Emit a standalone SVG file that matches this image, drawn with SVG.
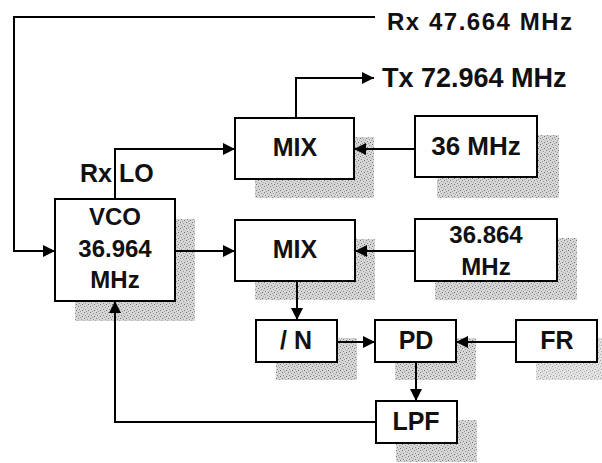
<svg xmlns="http://www.w3.org/2000/svg" width="602" height="463" viewBox="0 0 602 463">
<style>
.box{fill:#fff;stroke:#000;stroke-width:2}
.sh{fill:url(#stip);stroke:none}
.t{font-family:"Liberation Sans",Arial,sans-serif;font-weight:bold;fill:#111;text-anchor:middle}
.c{fill:none;stroke:#000;stroke-width:2}
</style>
<defs>
<pattern id="stip" width="6" height="6" patternUnits="userSpaceOnUse">
<rect width="6" height="6" fill="#d6d6d6"/>
<rect x="0" y="0" width="1" height="1" fill="#7a7a7a"/>
<rect x="3" y="1" width="1" height="1" fill="#999"/>
<rect x="1" y="3" width="1" height="1" fill="#888"/>
<rect x="4" y="4" width="1" height="1" fill="#6f6f6f"/>
<rect x="5" y="2" width="1" height="1" fill="#aaa"/>
<rect x="2" y="5" width="1" height="1" fill="#9a9a9a"/>
</pattern>
<marker id="ah" viewBox="0 0 12 12" refX="12" refY="6" markerWidth="12" markerHeight="12" markerUnits="userSpaceOnUse" orient="auto">
<path d="M0,0 L12,6 L0,12 Z" fill="#000"/>
</marker>
</defs>
<rect width="602" height="463" fill="#fff"/>

<g id="label-rx">
<text class="t" x="387" y="30" font-size="24" style="text-anchor:start" textLength="185" lengthAdjust="spacing">Rx 47.664 MHz</text>
</g>
<g id="label-tx">
<text class="t" x="382" y="87" font-size="27" style="text-anchor:start">Tx 72.964 MHz</text>
</g>
<g id="label-rxlo">
<text class="t" x="80" y="182" font-size="25" style="text-anchor:start">Rx LO</text>
</g>

<g id="mix1">
<rect class="sh" x="255" y="137" width="119" height="61"/>
<rect class="box" x="235" y="118" width="119" height="61"/>
<text class="t" x="295" y="156" font-size="25">MIX</text>
</g>
<g id="osc36">
<rect class="sh" x="437" y="135" width="122" height="63"/>
<rect class="box" x="415" y="116" width="122" height="61"/>
<text class="t" x="476" y="155" font-size="26">36 MHz</text>
</g>
<g id="vco">
<rect class="sh" x="75" y="219" width="120" height="102"/>
<rect class="box" x="55" y="199" width="120" height="102"/>
<text class="t" x="115" y="225" font-size="24">VCO</text>
<text class="t" x="115" y="257" font-size="24">36.964</text>
<text class="t" x="115" y="288" font-size="24">MHz</text>
</g>
<g id="mix2">
<rect class="sh" x="255" y="239" width="120" height="61"/>
<rect class="box" x="235" y="220" width="120" height="61"/>
<text class="t" x="295" y="258" font-size="25">MIX</text>
</g>
<g id="osc36864">
<rect class="sh" x="435" y="238" width="142" height="62"/>
<rect class="box" x="415" y="219" width="142" height="62"/>
<text class="t" x="486" y="243" font-size="24">36.864</text>
<text class="t" x="486" y="275" font-size="24">MHz</text>
</g>
<g id="divn">
<rect class="sh" x="276" y="338" width="81" height="42"/>
<rect class="box" x="256" y="320" width="81" height="42"/>
<text class="t" x="296" y="349" font-size="25">/ N</text>
</g>
<g id="pd">
<rect class="sh" x="395" y="338" width="81" height="42"/>
<rect class="box" x="375" y="320" width="81" height="42"/>
<text class="t" x="416" y="349" font-size="25">PD</text>
</g>
<g id="fr">
<rect class="sh" x="536" y="338" width="81" height="42" opacity="0.7"/>
<rect class="box" x="516" y="320" width="81" height="42"/>
<text class="t" x="557" y="349" font-size="25">FR</text>
</g>
<g id="lpf">
<rect class="sh" x="396" y="420" width="81" height="42"/>
<rect class="box" x="376" y="401" width="81" height="42"/>
<text class="t" x="416" y="430" font-size="25">LPF</text>
</g>

<g id="connectors">
<polyline class="c" points="375,17 14,17 14,251 55,251" marker-end="url(#ah)"/>
<polyline class="c" points="115,199 115,149 235,149" marker-end="url(#ah)"/>
<polyline class="c" points="296,118 296,78 374,78" marker-end="url(#ah)"/>
<line class="c" x1="415" y1="149" x2="354" y2="149" marker-end="url(#ah)"/>
<line class="c" x1="175" y1="251" x2="235" y2="251" marker-end="url(#ah)"/>
<line class="c" x1="415" y1="251" x2="355" y2="251" marker-end="url(#ah)"/>
<line class="c" x1="297" y1="281" x2="297" y2="320" marker-end="url(#ah)"/>
<line class="c" x1="337" y1="342" x2="375" y2="342" marker-end="url(#ah)"/>
<line class="c" x1="516" y1="342" x2="456" y2="342" marker-end="url(#ah)"/>
<line class="c" x1="416" y1="362" x2="416" y2="401" marker-end="url(#ah)"/>
<polyline class="c" points="376,422 115,422 115,301" marker-end="url(#ah)"/>
</g>
</svg>
